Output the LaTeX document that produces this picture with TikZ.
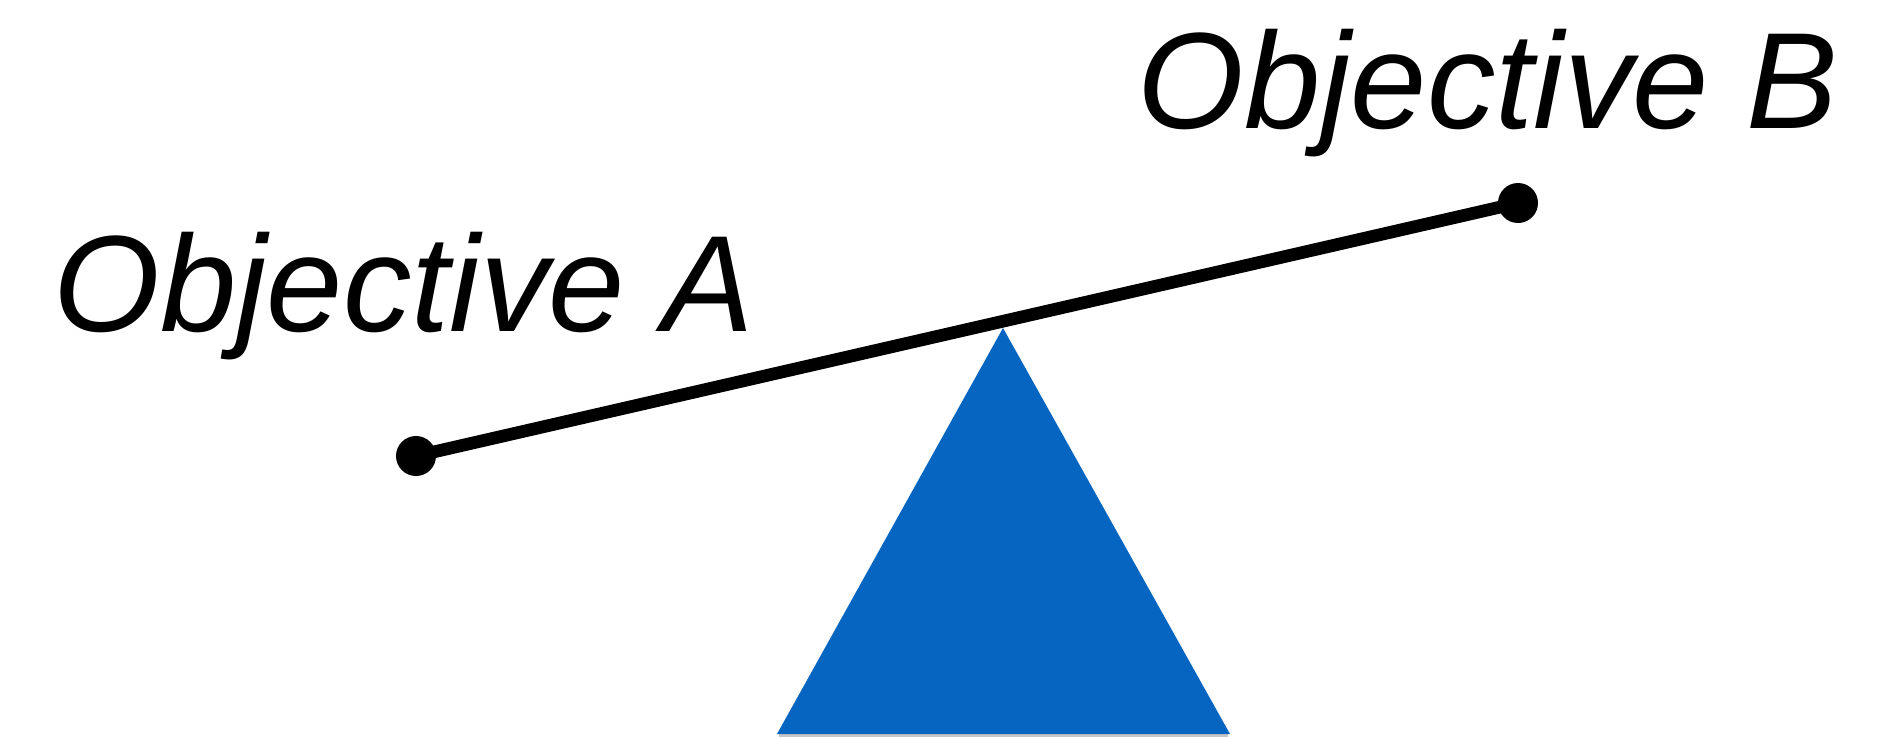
\documentclass[tikz,border=0pt]{standalone}
\usepackage{fontspec}
\setmainfont{Liberation Sans}
\usetikzlibrary{positioning}
\definecolor{pivot}{HTML}{0565C0}

\begin{document}
\begin{tikzpicture}[
    objdot/.style={circle, fill=black, inner sep=0pt, minimum size=4mm},
    objlabel/.style={anchor=base west, inner sep=0pt,
                     font=\fontsize{39}{46}\selectfont\itshape},
    beam/.style={line width=3.6pt},
  ]
    \useasboundingbox (0,0) rectangle (18.9,7.38);
    \fill[gray!45] (7.79,0.01) rectangle (12.28,0.04);
    \fill[pivot] (7.77,0.04) -- (10.03,4.10) -- (12.30,0.04) -- cycle;
    \node[objdot] (ptA) at (4.16,2.82) {};
    \node[objdot] (ptB) at (15.18,5.35) {};
    \draw[beam] (ptA.center) -- (ptB.center);
    \node[objlabel] (labA) at (0.53,4.07) {Objective A};
    \node[objlabel] (labB) at (11.37,6.10) {Objective B};
\end{tikzpicture}
\end{document}
